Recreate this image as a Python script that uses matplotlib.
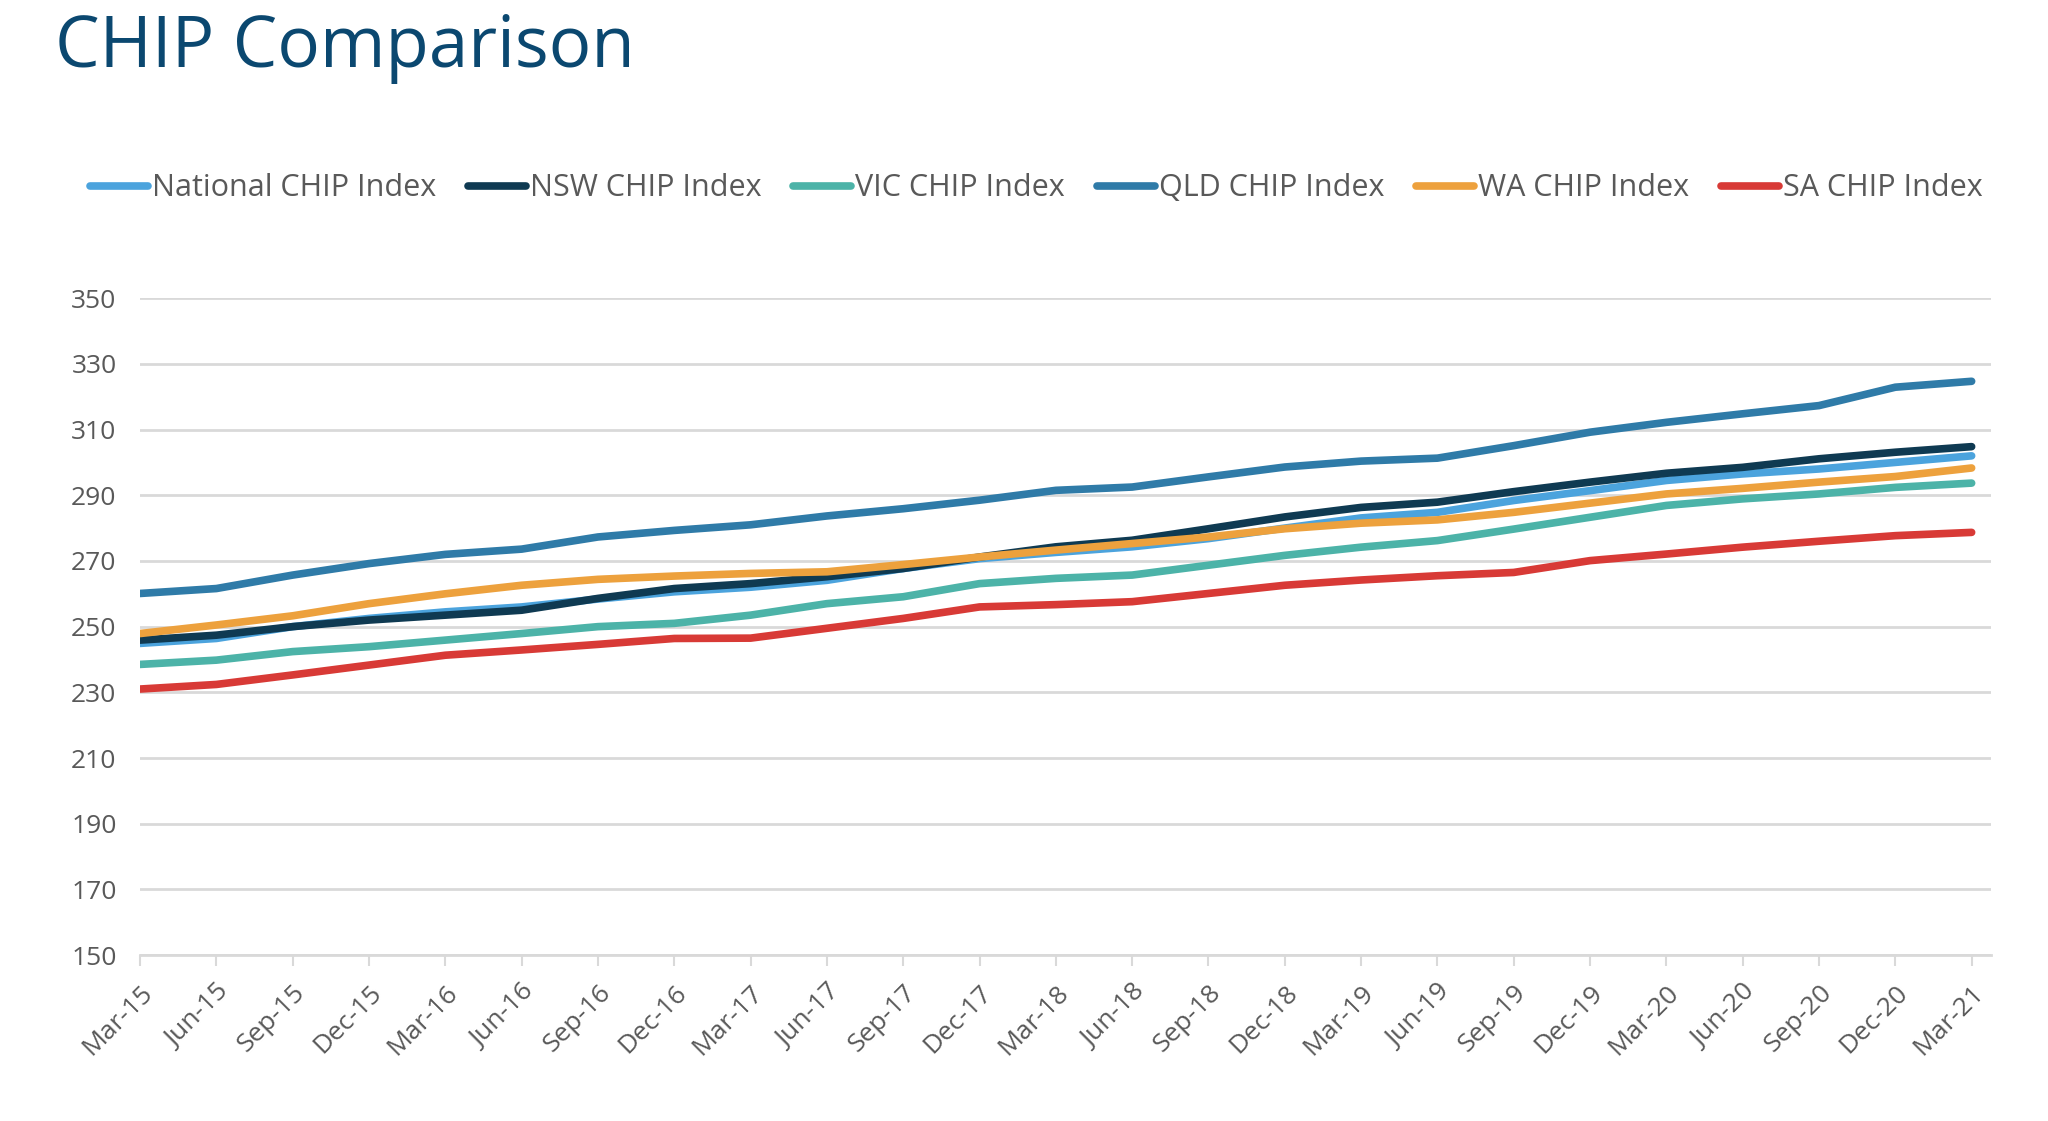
import numpy as np
import matplotlib
matplotlib.use("Agg")
import matplotlib.pyplot as plt

plt.rcParams['font.family'] = ['Open Sans', 'DejaVu Sans']

quarters = ['Mar-15', 'Jun-15', 'Sep-15', 'Dec-15', 'Mar-16', 'Jun-16', 'Sep-16', 'Dec-16',
            'Mar-17', 'Jun-17', 'Sep-17', 'Dec-17', 'Mar-18', 'Jun-18', 'Sep-18', 'Dec-18',
            'Mar-19', 'Jun-19', 'Sep-19', 'Dec-19', 'Mar-20', 'Jun-20', 'Sep-20', 'Dec-20', 'Mar-21']

national = [244.9, 246.4, 250.0, 252.5, 254.5, 256.0, 258.4, 260.6, 262.0, 264.1, 267.7, 270.7, 272.6,
            274.3, 276.8, 280.0, 283.1, 284.8, 288.4, 291.4, 294.5, 296.5, 298.0, 300.0, 302.0]
nsw = [245.9, 247.4, 250.0, 252.0, 253.5, 255.0, 258.6, 261.6, 263.1, 265.2, 267.7, 271.2, 274.3,
       276.3, 279.8, 283.4, 286.3, 287.9, 291.1, 294.0, 296.7, 298.5, 301.1, 303.1, 304.8]
vic = [238.5, 239.8, 242.4, 243.9, 245.9, 247.9, 250.0, 251.0, 253.5, 257.0, 259.1, 263.1, 264.7,
       265.7, 268.7, 271.7, 274.2, 276.2, 279.7, 283.3, 286.9, 288.9, 290.4, 292.4, 293.7]
qld = [260.1, 261.6, 265.7, 269.2, 272.0, 273.6, 277.3, 279.3, 281.0, 283.7, 285.9, 288.5, 291.5,
       292.5, 295.6, 298.6, 300.4, 301.3, 305.1, 309.2, 312.2, 314.8, 317.3, 322.9, 324.7]
wa = [247.9, 250.5, 253.3, 257.0, 260.0, 262.6, 264.4, 265.4, 266.2, 266.7, 268.9, 271.2, 273.3,
      275.3, 277.3, 279.8, 281.5, 282.5, 284.8, 287.6, 290.4, 292.1, 294.0, 295.7, 298.3]
sa = [231.0, 232.4, 235.3, 238.3, 241.3, 242.9, 244.6, 246.4, 246.5, 249.5, 252.5, 256.0, 256.7,
      257.6, 260.1, 262.6, 264.2, 265.5, 266.5, 270.1, 272.1, 274.2, 276.0, 277.7, 278.7]

labels = ['National CHIP Index', 'NSW CHIP Index', 'VIC CHIP Index',
          'QLD CHIP Index', 'WA CHIP Index', 'SA CHIP Index']
colors = ['#4ba3dd', '#0f3a52', '#4cb3a8', '#2f7ba8', '#eda13d', '#d83a36']

fig = plt.figure(figsize=(20.48, 11.21), dpi=100)
ax = fig.add_axes([0.0684, 0.148, 0.904, 0.586])

x = np.arange(len(quarters))
for ys, lab, c in zip([national, nsw, vic, qld, wa, sa], labels, colors):
    ax.plot(x, ys, color=c, lw=5.5, label=lab, solid_capstyle='round')

ax.set_xlim(0, 24.26)
ax.set_ylim(150, 350)
ax.set_yticks(np.arange(150, 351, 20))
ax.yaxis.grid(True, color='#d9d9d9', lw=2)
ax.set_axisbelow(True)
for s in ['left', 'right', 'top']:
    ax.spines[s].set_visible(False)
ax.spines['bottom'].set_color('#d9d9d9')
ax.spines['bottom'].set_linewidth(2)

ax.set_xticks(x)
ax.set_xticklabels(quarters, rotation=45, ha='right', rotation_mode='anchor')
ax.tick_params(axis='x', colors='#d9d9d9', length=8, width=1.5, labelcolor='#595959',
               labelsize=19, pad=10)
ax.tick_params(axis='y', length=0, labelcolor='#595959', labelsize=19, pad=17)

fig.text(0.027, 0.94, 'CHIP Comparison', fontsize=51, color='#0b4870', va='baseline')

fig.legend(loc='center', bbox_to_anchor=(0.506, 0.832), ncol=6, frameon=False,
           fontsize=22, handlelength=1.9, handletextpad=0.12, columnspacing=1.05,
           labelcolor='#595959')

fig.savefig('out.png', dpi=100, facecolor='white')
